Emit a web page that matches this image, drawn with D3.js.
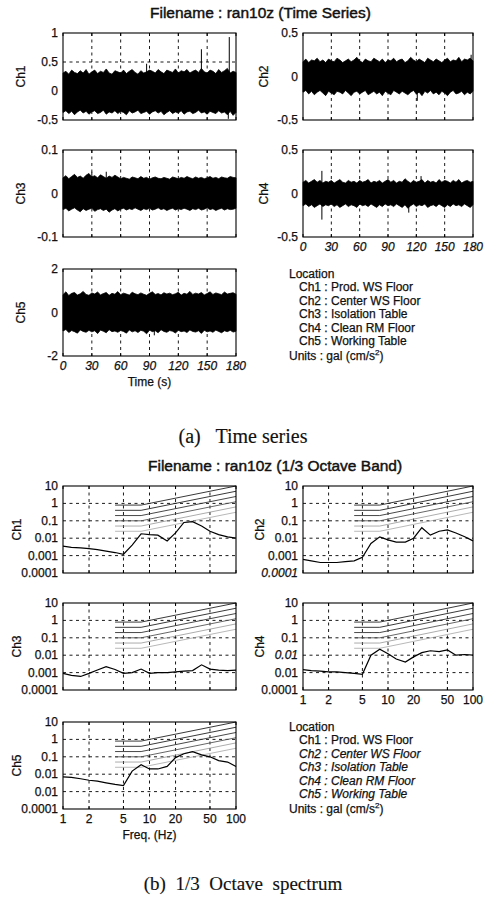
<!DOCTYPE html>
<html><head><meta charset="utf-8">
<script src="https://cdn.jsdelivr.net/npm/d3@7"></script>
<style>
body{margin:0;background:#fff}
svg text{font-family:"Liberation Sans",Arial,sans-serif;fill:#111;stroke:#111;stroke-width:0.25px}
svg text.title{stroke-width:0.45px}
svg text.cap{stroke-width:0.15px}
</style>
</head><body>
<svg id="c" width="484" height="906"></svg>
<script>
// ---------------- DATA ----------------
const titleTop = "Filename : ran10z (Time Series)";
const titleBottom = "Filename : ran10z (1/3 Octave Band)";
const captionA = "(a)   Time series";
const captionB = "(b)  1/3  Octave  spectrum";
const channels = ["Ch1","Ch2","Ch3","Ch4","Ch5"];
const legendItems = ["Ch1 : Prod. WS Floor","Ch2 : Center WS Floor","Ch3 : Isolation Table","Ch4 : Clean RM Floor","Ch5 : Working Table"];

const timeTicks = [0,30,60,90,120,150,180];
const tsDomains = [[-0.5,1],[-0.5,0.5],[-0.1,0.1],[-0.5,0.5],[-2,2]];
const tsYTicks = [[-0.5,0,0.5,1],[-0.5,0,0.5],[-0.1,0,0.1],[-0.5,0,0.5],[-2,0,2]];
const tsYTickLabels = [["-0.5","0","0.5","1"],["-0.5","0","0.5"],["-0.1","0","0.1"],["-0.5","0","0.5"],["-2","0","2"]];

// envelope of the dense acceleration record, sampled evenly over 0-180 s
const ch1Upper=[0.31,0.34,0.29,0.36,0.32,0.30,0.35,0.31,0.37,0.29,0.33,0.36,0.30,0.34,0.32,0.38,0.31,0.29,0.35,0.33,0.31,0.36,0.30,0.34,0.37,0.32,0.29,0.35,0.31,0.33,0.36,0.34,0.31,0.37,0.33,0.30,0.36,0.34,0.32,0.38,0.31,0.35,0.33,0.37,0.31,0.34,0.36,0.32,0.39,0.33,0.31,0.36,0.34,0.30,0.37,0.32,0.35,0.39,0.31,0.34,0.32];
const ch1Lower=[-0.37,-0.34,-0.39,-0.35,-0.41,-0.36,-0.33,-0.38,-0.35,-0.40,-0.36,-0.34,-0.39,-0.37,-0.33,-0.40,-0.36,-0.38,-0.34,-0.39,-0.35,-0.37,-0.41,-0.34,-0.38,-0.36,-0.33,-0.39,-0.37,-0.35,-0.40,-0.36,-0.34,-0.38,-0.35,-0.41,-0.37,-0.34,-0.39,-0.36,-0.38,-0.34,-0.40,-0.36,-0.35,-0.39,-0.37,-0.33,-0.38,-0.36,-0.40,-0.35,-0.37,-0.39,-0.34,-0.38,-0.36,-0.41,-0.35,-0.42,-0.37];
const ch2Upper=[0.17,0.20,0.16,0.19,0.18,0.21,0.17,0.19,0.16,0.20,0.18,0.17,0.21,0.19,0.16,0.18,0.20,0.17,0.19,0.22,0.18,0.16,0.20,0.18,0.17,0.21,0.19,0.17,0.20,0.16,0.19,0.18,0.21,0.17,0.19,0.20,0.16,0.18,0.22,0.19,0.17,0.20,0.18,0.16,0.21,0.19,0.17,0.20,0.18,0.16,0.19,0.21,0.17,0.19,0.18,0.22,0.17,0.20,0.19,0.21,0.18];
const ch2Lower=[-0.18,-0.16,-0.20,-0.17,-0.21,-0.18,-0.16,-0.19,-0.22,-0.17,-0.19,-0.21,-0.17,-0.18,-0.20,-0.16,-0.19,-0.22,-0.18,-0.17,-0.20,-0.18,-0.16,-0.21,-0.19,-0.17,-0.20,-0.18,-0.22,-0.17,-0.19,-0.21,-0.16,-0.18,-0.20,-0.17,-0.19,-0.21,-0.18,-0.16,-0.20,-0.18,-0.22,-0.17,-0.19,-0.16,-0.20,-0.18,-0.21,-0.17,-0.19,-0.22,-0.18,-0.16,-0.20,-0.19,-0.17,-0.21,-0.18,-0.20,-0.17];
const ch3Upper=[0.036,0.041,0.034,0.039,0.044,0.037,0.040,0.035,0.042,0.046,0.038,0.041,0.036,0.043,0.039,0.035,0.040,0.037,0.042,0.038,0.034,0.037,0.035,0.033,0.038,0.036,0.034,0.039,0.035,0.037,0.033,0.036,0.038,0.035,0.034,0.037,0.035,0.033,0.038,0.036,0.034,0.037,0.035,0.039,0.036,0.034,0.038,0.035,0.037,0.034,0.036,0.039,0.035,0.037,0.034,0.038,0.036,0.035,0.039,0.037,0.036];
const ch3Lower=[-0.037,-0.034,-0.040,-0.036,-0.033,-0.038,-0.042,-0.035,-0.039,-0.036,-0.034,-0.041,-0.037,-0.035,-0.039,-0.036,-0.043,-0.038,-0.035,-0.040,-0.036,-0.034,-0.038,-0.035,-0.037,-0.033,-0.036,-0.039,-0.035,-0.037,-0.034,-0.038,-0.036,-0.033,-0.037,-0.035,-0.039,-0.036,-0.034,-0.038,-0.035,-0.037,-0.034,-0.036,-0.039,-0.035,-0.037,-0.034,-0.038,-0.036,-0.033,-0.037,-0.035,-0.039,-0.036,-0.034,-0.038,-0.035,-0.037,-0.036,-0.034];
const ch4Upper=[0.13,0.15,0.12,0.14,0.16,0.13,0.15,0.12,0.14,0.13,0.15,0.12,0.14,0.16,0.13,0.12,0.15,0.13,0.14,0.12,0.15,0.13,0.14,0.16,0.12,0.14,0.13,0.15,0.12,0.14,0.16,0.13,0.15,0.12,0.14,0.13,0.17,0.14,0.12,0.15,0.13,0.14,0.16,0.12,0.15,0.13,0.14,0.12,0.16,0.13,0.15,0.14,0.12,0.15,0.13,0.16,0.12,0.14,0.15,0.13,0.14];
const ch4Lower=[-0.14,-0.12,-0.15,-0.13,-0.16,-0.14,-0.12,-0.15,-0.13,-0.14,-0.12,-0.15,-0.13,-0.16,-0.14,-0.12,-0.15,-0.13,-0.14,-0.16,-0.12,-0.14,-0.13,-0.15,-0.12,-0.14,-0.16,-0.13,-0.15,-0.12,-0.14,-0.13,-0.15,-0.12,-0.14,-0.16,-0.13,-0.17,-0.14,-0.12,-0.15,-0.13,-0.14,-0.12,-0.16,-0.14,-0.13,-0.15,-0.12,-0.14,-0.16,-0.13,-0.15,-0.12,-0.14,-0.13,-0.15,-0.12,-0.14,-0.16,-0.13];
const ch5Upper=[0.82,0.95,0.78,0.88,0.92,0.80,0.86,0.97,0.83,0.79,0.90,0.85,0.94,0.81,0.87,0.92,0.79,0.88,0.84,0.96,0.82,0.89,0.85,0.80,0.93,0.86,0.82,0.90,0.84,0.79,0.88,0.95,0.83,0.87,0.81,0.91,0.85,0.89,0.82,0.86,0.93,0.80,0.88,0.84,0.97,0.83,0.89,0.85,0.92,0.81,0.87,0.95,0.83,0.90,0.86,0.82,0.94,0.85,0.88,0.91,0.84];
const ch5Lower=[-0.85,-0.78,-0.92,-0.83,-0.88,-0.95,-0.80,-0.87,-0.91,-0.82,-0.89,-0.84,-0.97,-0.81,-0.86,-0.93,-0.79,-0.88,-0.85,-0.91,-0.83,-0.87,-0.95,-0.80,-0.89,-0.84,-0.92,-0.82,-0.86,-0.98,-0.81,-0.88,-0.84,-0.93,-0.79,-0.87,-0.91,-0.83,-0.86,-0.94,-0.82,-0.88,-0.85,-0.92,-0.80,-0.87,-0.90,-0.84,-0.96,-0.82,-0.89,-0.85,-0.91,-0.81,-0.87,-0.93,-0.84,-0.88,-0.82,-0.90,-0.86];
// isolated peaks (time s, value gal)
const ch1SpikeT=[87,144,172,173], ch1SpikeV=[0.47,0.72,-0.48,0.93];
const ch2SpikeT=[121,178], ch2SpikeV=[-0.28,0.25];
const ch3SpikeT=[30,45], ch3SpikeV=[0.05,0.05];
const ch4SpikeT=[20,20,112,125], ch4SpikeV=[0.26,-0.30,-0.22,0.20];
const ch5SpikeT=[95], ch5SpikeV=[-1.05];

// 1/3 octave band spectra
const freqBands=[1,1.25,1.6,2,2.5,3.15,4,5,6.3,8,10,12.5,16,20,25,31.5,40,50,63,80,100];
const ch1Spec=[0.0035,0.003,0.0028,0.0025,0.0022,0.0018,0.0015,0.0012,0.004,0.018,0.016,0.015,0.007,0.02,0.08,0.09,0.05,0.025,0.016,0.012,0.01];
const ch2Spec=[0.0006,0.0005,0.0004,0.0004,0.0004,0.00045,0.0005,0.0008,0.005,0.012,0.008,0.006,0.006,0.01,0.04,0.015,0.025,0.03,0.02,0.012,0.007];
const ch3Spec=[0.0009,0.0007,0.0006,0.0009,0.0014,0.0022,0.0015,0.0009,0.001,0.0016,0.0009,0.001,0.001,0.0011,0.0012,0.0013,0.0028,0.0016,0.0014,0.0013,0.0014];
const ch4Spec=[0.0015,0.0013,0.0012,0.0011,0.0011,0.001,0.0009,0.0008,0.01,0.022,0.012,0.006,0.004,0.008,0.014,0.018,0.016,0.02,0.01,0.011,0.01];
const ch5Spec=[0.007,0.0065,0.0055,0.0045,0.004,0.0032,0.0026,0.0022,0.015,0.035,0.02,0.02,0.028,0.09,0.15,0.2,0.13,0.1,0.06,0.05,0.028];
// vibration criterion curves
const critFreq=[4,8,100];
const critLevels=[[0.8,0.8,10],[0.4,0.4,5],[0.2,0.2,2.5],[0.1,0.1,1.25],[0.05,0.05,0.63],[0.025,0.025,0.31]];
const critColors=["#222","#222","#333","#555","#888","#999"];

const freqTicks=[1,2,5,10,20,50,100];
const freqTickLabels=["1","2","5","10","20","50","100"];
const specYTicks=[10,1,0.1,0.01,0.001,0.0001];
const specYTickLabels=[
  ["10","1","0.1","0.01","0.001","0.0001"],
  ["10","1","0.1","0.01","0.001","0.0001"],
  ["10","1","0.1","0.01","0.001","0.0001"],
  ["10","1","0.1","0.01","0.01","0.0001"],
  ["10","1","0.1","0.01","0.01","0.0001"]];

// ---------------- LAYOUT ----------------
const svg = d3.select("#c");
const colX = [[63,236],[303,473]];
const rowY = [33,150,269];
const PH = 87;
const OFF = 453;
const panelPos = [[0,0],[1,0],[0,1],[1,1],[0,2]]; // [col,row]
const envUpper=[ch1Upper,ch2Upper,ch3Upper,ch4Upper,ch5Upper];
const envLower=[ch1Lower,ch2Lower,ch3Lower,ch4Lower,ch5Lower];
const spikeT=[ch1SpikeT,ch2SpikeT,ch3SpikeT,ch4SpikeT,ch5SpikeT];
const spikeV=[ch1SpikeV,ch2SpikeV,ch3SpikeV,ch4SpikeV,ch5SpikeV];
const specs=[ch1Spec,ch2Spec,ch3Spec,ch4Spec,ch5Spec];
const dash="3,3.5";

function frame(g,x0,x1,y0,y1){
  g.append("rect").attr("x",x0).attr("y",y0).attr("width",x1-x0).attr("height",y1-y0)
   .attr("fill","none").attr("stroke","#000").attr("stroke-width",1.1);
}

function timePanel(i){
  const [c,r]=panelPos[i];
  const [x0,x1]=colX[c]; const y0=rowY[r], y1=y0+PH;
  const g=svg.append("g");
  const x=d3.scaleLinear([0,180],[x0,x1]);
  const y=d3.scaleLinear(tsDomains[i],[y1,y0]);
  timeTicks.slice(1,-1).forEach(t=>g.append("line").attr("x1",x(t)).attr("x2",x(t)).attr("y1",y0).attr("y2",y1)
     .attr("stroke","#000").attr("stroke-width",0.9).attr("stroke-dasharray",dash));
  tsYTicks[i].filter(v=>v>tsDomains[i][0]&&v<tsDomains[i][1]).forEach(v=>g.append("line").attr("x1",x0).attr("x2",x1)
     .attr("y1",y(v)).attr("y2",y(v)).attr("stroke","#000").attr("stroke-width",0.9).attr("stroke-dasharray",dash));
  const up=envUpper[i], lo=envLower[i], n=up.length, step=180/(n-1);
  const data=up.map((u,k)=>({t:k*step,u:u,l:lo[k]}));
  g.append("path").datum(data)
   .attr("d",d3.area().x(d=>x(d.t)).y0(d=>y(d.l)).y1(d=>y(d.u)))
   .attr("fill","#000").attr("stroke","#000").attr("stroke-width",0.8);
  spikeT[i].forEach((t,k)=>g.append("line").attr("x1",x(t)).attr("x2",x(t)).attr("y1",y(0)).attr("y2",y(spikeV[i][k]))
     .attr("stroke","#000").attr("stroke-width",1));
  frame(g,x0,x1,y0,y1);
  timeTicks.forEach(t=>{
    g.append("line").attr("x1",x(t)).attr("x2",x(t)).attr("y1",y1).attr("y2",y1-3).attr("stroke","#000");
    g.append("line").attr("x1",x(t)).attr("x2",x(t)).attr("y1",y0).attr("y2",y0+3).attr("stroke","#000");
  });
  tsYTicks[i].forEach((v,k)=>{
    g.append("text").attr("x",x0-5).attr("y",y(v)+4).attr("text-anchor","end").attr("font-size",12).text(tsYTickLabels[i][k]);
  });
  g.append("text").attr("transform",`translate(${c===0?25:268},${(y0+y1)/2}) rotate(-90)`)
   .attr("text-anchor","middle").attr("font-size",12).text(channels[i]);
  if(i===3||i===4){
    timeTicks.forEach(t=>g.append("text").attr("x",x(t)).attr("y",y1+14).attr("text-anchor","middle")
      .attr("font-size",12).attr("font-style","italic").text(t));
  }
  if(i===4){
    g.append("text").attr("x",(x0+x1)/2).attr("y",y1+30).attr("text-anchor","middle").attr("font-size",12).text("Time (s)");
  }
}

function specPanel(i){
  const [c,r]=panelPos[i];
  const [x0,x1]=colX[c]; const y0=rowY[r]+OFF, y1=y0+PH;
  const g=svg.append("g");
  const x=d3.scaleLog([1,100],[x0,x1]);
  const y=d3.scaleLog([0.0001,10],[y1,y0]);
  freqTicks.slice(1,-1).forEach(f=>g.append("line").attr("x1",x(f)).attr("x2",x(f)).attr("y1",y0).attr("y2",y1)
     .attr("stroke","#000").attr("stroke-width",0.9).attr("stroke-dasharray",dash));
  specYTicks.slice(1,-1).forEach(v=>g.append("line").attr("x1",x0).attr("x2",x1).attr("y1",y(v)).attr("y2",y(v))
     .attr("stroke","#000").attr("stroke-width",0.9).attr("stroke-dasharray",dash));
  const line=d3.line().x(d=>x(d[0])).y(d=>y(d[1]));
  critLevels.forEach((lv,k)=>{
    g.append("path").datum(critFreq.map((f,j)=>[f,lv[j]])).attr("d",line)
     .attr("fill","none").attr("stroke",critColors[k]).attr("stroke-width",k<4?0.9:0.7);
  });
  g.append("path").datum(freqBands.map((f,j)=>[f,specs[i][j]])).attr("d",line)
   .attr("fill","none").attr("stroke","#000").attr("stroke-width",1.2);
  frame(g,x0,x1,y0,y1);
  freqTicks.forEach(f=>{
    g.append("line").attr("x1",x(f)).attr("x2",x(f)).attr("y1",y1).attr("y2",y1-3).attr("stroke","#000");
    g.append("line").attr("x1",x(f)).attr("x2",x(f)).attr("y1",y0).attr("y2",y0+3).attr("stroke","#000");
  });
  specYTicks.forEach((v,k)=>{
    g.append("text").attr("x",x0-5).attr("y",y(v)+4).attr("text-anchor","end").attr("font-size",12)
     .attr("font-style",(i===1&&k===5)||(i===3&&k===3)?"italic":"normal").text(specYTickLabels[i][k]);
  });
  g.append("text").attr("transform",`translate(${c===0?21:264},${(y0+y1)/2}) rotate(-90)`)
   .attr("text-anchor","middle").attr("font-size",12).text(channels[i]);
  if(i===3||i===4){
    freqTicks.forEach((f,k)=>g.append("text").attr("x",x(f)).attr("y",y1+14).attr("text-anchor","middle")
      .attr("font-size",12).text(freqTickLabels[k]));
  }
  if(i===4){
    g.append("text").attr("x",(x0+x1)/2).attr("y",y1+30).attr("text-anchor","middle").attr("font-size",12).text("Freq. (Hz)");
  }
}

function legend(oy,italicRows){
  const g=svg.append("g");
  const lx=289, y0=278+oy, dy=13.4;
  g.append("text").attr("x",lx).attr("y",y0).attr("font-size",12).text("Location");
  legendItems.forEach((s,k)=>g.append("text").attr("x",lx+10).attr("y",y0+dy*(k+1)).attr("font-size",12)
     .attr("font-style",italicRows&&k>0?"italic":"normal").text(s));
  const u=g.append("text").attr("x",lx).attr("y",y0+dy*6+2).attr("font-size",12);
  u.append("tspan").text("Units : gal (cm/s");
  u.append("tspan").attr("font-size",8).attr("dy",-5).text("2");
  u.append("tspan").attr("dy",5).text(")");
}

svg.append("text").attr("class","title").attr("x",150).attr("y",18).attr("font-size",15.5).text(titleTop);
svg.append("text").attr("class","title").attr("x",148).attr("y",18+OFF).attr("font-size",15.5).text(titleBottom);
for(let i=0;i<5;i++){ timePanel(i); specPanel(i); }
legend(0,false);
legend(OFF,true);
svg.append("text").attr("class","cap").attr("x",243).attr("y",443).attr("text-anchor","middle").attr("font-size",20)
  .attr("xml:space","preserve").style("white-space","pre").style("font-family","'Liberation Serif','Times New Roman',serif").text(captionA);
svg.append("text").attr("class","cap").attr("x",243).attr("y",890).attr("text-anchor","middle").attr("font-size",19)
  .attr("xml:space","preserve").style("white-space","pre").style("font-family","'Liberation Serif','Times New Roman',serif").text(captionB);
</script>
</body></html>
